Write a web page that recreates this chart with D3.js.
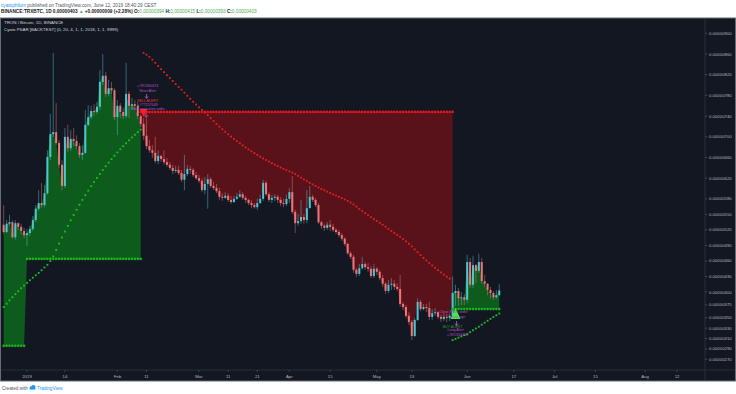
<!DOCTYPE html>
<html>
<head>
<meta charset="utf-8">
<script src="https://cdn.jsdelivr.net/npm/d3@7"></script>
<style>
  html, body { margin: 0; padding: 0; background: #ffffff; }
  svg { display: block; font-family: "Liberation Sans", Arial, sans-serif; }
</style>
</head>
<body>
<svg id="chart" width="736" height="394"></svg>
<script>
"use strict";
// Daily TRX/BTC candles, prices in satoshi (1e-8 BTC)
const firstDay = "2018-12-24";
const firstOpen = 530;
const closes = [
  516, 532, 535, 506, 533, 526, 518, 510,
  514, 522, 539, 561, 572, 568, 591, 661, 705, 709,
  688, 646, 605, 700, 678, 696, 692, 682, 665, 669,
  723, 738, 750, 748, 758, 806, 818, 783, 794, 790,
  738, 760, 748, 740, 783, 760, 763, 760, 740, 725,
  702, 682, 674, 669, 653, 663, 657, 651, 646, 640,
  634, 636, 630, 617, 628, 638, 636, 626, 620, 615,
  597, 609, 618, 605, 601, 595, 584, 582, 586, 578,
  574, 580, 584, 589, 582, 578, 572, 568, 564, 572,
  580, 611, 589, 578, 582, 584, 578, 572, 570, 580,
  593, 555, 533, 537, 545, 539, 562, 584, 578, 568,
  535, 528, 524, 530, 526, 520, 516, 510, 503, 493,
  475, 468, 443, 435, 446, 454, 448, 445, 431, 445,
  439, 427, 416, 402, 414, 416, 410, 406, 377, 371,
  354, 342, 315, 346, 381, 367, 371, 369, 352, 359,
  361, 352, 348, 352, 350, 354, 398, 402, 388, 390,
  385, 458, 414, 452, 441, 458, 421, 416, 404, 398,
  390, 394, 403
];
const highs = [
  568, 539, 549, 539, 539, 535, 532, 524,
  522, 528, 547, 568, 597, 611, 607, 674, 744, 862,
  765, 694, 655, 717, 723, 713, 717, 703, 688, 684,
  752, 761, 760, 763, 767, 829, 860, 825, 810, 806,
  794, 771, 765, 756, 843, 788, 775, 771, 767, 744,
  736, 736, 694, 684, 700, 674, 665, 674, 659, 651,
  646, 644, 644, 636, 665, 646, 644, 640, 632, 626,
  620, 622, 628, 622, 613, 609, 601, 591, 593, 591,
  586, 586, 591, 597, 593, 586, 580, 578, 572, 580,
  588, 617, 615, 593, 588, 589, 588, 584, 580, 588,
  601, 624, 559, 551, 578, 551, 597, 605, 588, 582,
  572, 537, 532, 535, 539, 532, 524, 520, 514, 506,
  495, 479, 472, 446, 454, 468, 458, 456, 450, 454,
  448, 443, 433, 419, 423, 427, 423, 417, 433, 381,
  375, 361, 346, 350, 388, 385, 377, 377, 381, 367,
  369, 363, 356, 359, 358, 359, 430, 414, 408, 400,
  396, 472, 466, 470, 454, 474, 466, 433, 417, 410,
  402, 404, 415
];
const lows = [
  512, 514, 528, 503, 501, 520, 512, 504,
  489, 508, 518, 535, 557, 562, 564, 588, 655, 700,
  684, 640, 597, 601, 671, 673, 682, 676, 659, 655,
  667, 721, 734, 740, 744, 752, 800, 777, 779, 783,
  732, 703, 736, 734, 736, 736, 752, 752, 734, 719,
  694, 676, 669, 659, 649, 647, 651, 646, 642, 636,
  628, 630, 626, 613, 597, 624, 628, 622, 617, 611,
  593, 589, 561, 601, 597, 591, 578, 576, 580, 574,
  570, 572, 578, 582, 578, 572, 568, 562, 561, 559,
  570, 576, 586, 574, 572, 576, 572, 566, 564, 566,
  572, 551, 514, 528, 532, 532, 533, 562, 574, 564,
  532, 522, 518, 520, 518, 516, 512, 506, 499, 489,
  472, 464, 437, 429, 431, 443, 443, 439, 427, 427,
  433, 423, 410, 396, 398, 404, 404, 402, 371, 365,
  350, 336, 307, 313, 344, 363, 365, 361, 346, 346,
  354, 348, 342, 344, 342, 344, 350, 373, 373, 375,
  375, 379, 408, 408, 417, 437, 416, 410, 394, 388,
  385, 387, 393
];

// strategy positions and their stop / entry levels
const tradeSide = ["long", "short", "long"];
const tradeStart = ["2018-12-24", "2019-02-09", "2019-05-27"];
const tradeEnd = ["2019-02-09", "2019-05-27", "2019-06-12"];
const levelTrade = [0, 0, 1, 2];
const levelFrom = ["2018-12-24", "2019-01-01", "2019-02-09", "2019-05-27"];
const levelValue = [296, 464, 748, 367];

const signalDates = ["2019-02-10", "2019-05-28"];
const signalSide = ["short", "long"];

// parabolic SAR settings and state at the first visible bar
const sarStart = 0.02;
const sarStep = 0.004;
const sarMax = 0.032;
const sarInit = { sar: 371, ep: 575, af: 0.032, up: true };

const priceTicks = [900, 860, 820, 780, 740, 700, 660, 620, 580, 550, 520, 490, 460, 430, 400, 375, 350, 330, 310, 290, 270];
const dateTicks = ["2019-01-01", "2019-01-14", "2019-02-01", "2019-02-11", "2019-03-01", "2019-03-11", "2019-03-21", "2019-04-01", "2019-04-15", "2019-05-01", "2019-05-13", "2019-06-01", "2019-06-17", "2019-07-01", "2019-07-15", "2019-08-01", "2019-08-12"];
const dateTickLabels = ["2019", "14", "Feb", "11", "Mar", "11", "21", "Apr", "15", "May", "13", "Jun", "17", "Jul", "15", "Aug", "12"];

(function () {
  const parse = d3.utcParse("%Y-%m-%d");
  const fmtPrice = (v) => (v * 1e-8).toFixed(8);

  const colors = {
    bg: "#131722",
    up: "#53c3cf",
    down: "#e8787c",
    fillLong: "#0d5c1d",
    fillShort: "#5a121a",
    lineLong: "#18b318",
    lineShort: "#e0181c",
    sarUp: "#1ec41e",
    sarDown: "#e61f1f",
    axisText: "#b2b5be",
    purple: "#b14fc9",
  };

  const start = parse(firstDay);
  const bars = closes.map((c, i) => ({
    date: d3.utcDay.offset(start, i),
    open: i ? closes[i - 1] : firstOpen,
    high: highs[i],
    low: lows[i],
    close: c,
  }));

  const plot = { left: 2, right: 705, top: 18.5, bottom: 370 };

  const x = d3
    .scaleUtc()
    .domain([parse("2019-01-01"), parse("2019-08-01")])
    .range([27, 645]);
  const y = d3.scaleLinear().domain([270, 900]).range([359.3, 33.3]);

  const svg = d3.select("#chart");

  // ---- header
  const head1 = svg
    .append("text")
    .attr("x", 1)
    .attr("y", 7)
    .attr("font-size", 4.7)
    .attr("fill", "#50535e");
  head1.append("tspan").attr("fill", "#2196f3").text("cyatophilum");
  head1.append("tspan").text(" published on TradingView.com, June 12, 2019 18:40:29 CEST");

  const head2 = svg
    .append("text")
    .attr("x", 1)
    .attr("y", 13.3)
    .attr("font-size", 4.7)
    .attr("font-weight", "bold")
    .attr("fill", "#131722");
  const green = "#4caf50";
  [
    ["BINANCE:TRXBTC, 1D 0.00000403 ", null],
    ["\u25B2", green],
    [" +0.00000009 (+2.28%) O:", null],
    ["0.00000394", green],
    [" H:", null],
    ["0.00000415", green],
    [" L:", null],
    ["0.00000393", green],
    [" C:", null],
    ["0.00000403", green],
  ].forEach(([t, c]) => {
    const s = head2.append("tspan").text(t);
    if (c) s.attr("fill", c).attr("font-weight", "normal");
  });

  // ---- chart frame
  svg
    .append("rect")
    .attr("x", 0.5)
    .attr("y", 18)
    .attr("width", 735)
    .attr("height", 363)
    .attr("fill", colors.bg)
    .attr("stroke", "#6a6d78")
    .attr("stroke-width", 1);

  svg
    .append("line")
    .attr("x1", plot.right)
    .attr("x2", plot.right)
    .attr("y1", 18.5)
    .attr("y2", 380.5)
    .attr("stroke", "#2a2e39");
  svg
    .append("line")
    .attr("x1", 1)
    .attr("x2", 735)
    .attr("y1", plot.bottom)
    .attr("y2", plot.bottom)
    .attr("stroke", "#2a2e39");

  svg
    .append("defs")
    .append("clipPath")
    .attr("id", "plotClip")
    .append("rect")
    .attr("x", plot.left)
    .attr("y", plot.top)
    .attr("width", plot.right - plot.left)
    .attr("height", plot.bottom - plot.top);

  const g = svg.append("g").attr("clip-path", "url(#plotClip)");

  // ---- strategy position fills
  const trades = tradeSide.map((side, t) => {
    const from = parse(tradeStart[t]);
    const to = parse(tradeEnd[t]);
    const steps = levelFrom
      .map((d, k) => ({ date: parse(d), value: levelValue[k], trade: levelTrade[k] }))
      .filter((s) => s.trade === t);
    const rows = bars
      .filter((b) => b.date >= from && b.date <= to)
      .map((b) => {
        const step = steps.filter((s) => s.date <= b.date).pop() || steps[0];
        return { date: b.date, close: b.close, level: step.value };
      });
    return { side, rows };
  });

  const area = d3
    .area()
    .x((d) => x(d.date))
    .y0((d) => y(d.level))
    .y1((d) => y(d.close));

  g.selectAll(".pos-fill")
    .data(trades)
    .join("path")
    .attr("class", "pos-fill")
    .attr("d", (d) => area(d.rows))
    .attr("fill", (d) => (d.side === "long" ? colors.fillLong : colors.fillShort));

  // ---- candles
  const candle = g
    .selectAll(".candle")
    .data(bars)
    .join("g")
    .attr("class", "candle");
  candle
    .append("line")
    .attr("x1", (d) => x(d.date))
    .attr("x2", (d) => x(d.date))
    .attr("y1", (d) => y(d.high))
    .attr("y2", (d) => y(d.low))
    .attr("stroke", (d) => (d.close >= d.open ? colors.up : colors.down))
    .attr("stroke-opacity", 0.6)
    .attr("stroke-width", 0.8);
  candle
    .append("rect")
    .attr("x", (d) => x(d.date) - 1)
    .attr("width", 2)
    .attr("y", (d) => y(Math.max(d.open, d.close)))
    .attr("height", (d) => Math.max(0.7, Math.abs(y(d.open) - y(d.close))))
    .attr("fill", (d) => (d.close >= d.open ? colors.up : colors.down));

  // ---- level lines (plotted as circles per bar)
  trades.forEach((tr) => {
    g.append("g")
      .selectAll("circle")
      .data(tr.rows)
      .join("circle")
      .attr("cx", (d) => x(d.date))
      .attr("cy", (d) => y(d.level))
      .attr("r", 1.35)
      .attr("fill", tr.side === "long" ? colors.lineLong : colors.lineShort);
  });

  // ---- parabolic SAR
  function psar(data) {
    let { sar, ep, af, up } = sarInit;
    return data.map((b, i) => {
      if (i > 0) {
        sar = sar + af * (ep - sar);
        const p1 = data[i - 1];
        const p2 = data[Math.max(0, i - 2)];
        if (up) {
          sar = Math.min(sar, p1.low, p2.low);
          if (b.low < sar) {
            up = false;
            sar = ep;
            ep = b.low;
            af = sarStart;
          } else if (b.high > ep) {
            ep = b.high;
            af = Math.min(af + sarStep, sarMax);
          }
        } else {
          sar = Math.max(sar, p1.high, p2.high);
          if (b.high > sar) {
            up = true;
            sar = ep;
            ep = b.high;
            af = sarStart;
          } else if (b.low < ep) {
            ep = b.low;
            af = Math.min(af + sarStep, sarMax);
          }
        }
      }
      return { date: b.date, sar, up };
    });
  }

  g.append("g")
    .selectAll("rect")
    .data(psar(bars))
    .join("rect")
    .attr("x", (d) => x(d.date) - 0.9)
    .attr("y", (d) => y(d.sar) - 0.9)
    .attr("width", 1.8)
    .attr("height", 1.8)
    .attr("fill", (d) => (d.up ? colors.sarUp : colors.sarDown));

  // ---- entry signals
  signalDates.forEach((ds, k) => {
    const date = parse(ds);
    const t = signalSide[k] === "short" ? 1 : 2;
    const lvl = levelValue[levelTrade.indexOf(t)];
    const cx = x(date);
    const cy = y(lvl);
    const sg = g.append("g").attr("font-size", 3.6).attr("text-anchor", "middle");
    if (signalSide[k] === "short") {
      sg.append("path")
        .attr("d", `M${cx - 4},${cy - 3}L${cx + 4},${cy - 3}L${cx},${cy + 5}Z`)
        .attr("fill", "#ff1e1e");
      const lines = [
        ["+#RO360474", colors.purple, -25],
        ["Short Alert", colors.purple, -20],
        ["SELL ALERT", "#e53935", -10],
        ["+#TT157049", colors.purple, -6],
        ["Short execution order", colors.purple, -1.5],
      ];
      lines.forEach(([t2, c, dy]) =>
        sg.append("text").attr("x", cx + 4).attr("y", cy + dy).attr("fill", c).text(t2)
      );
      sg.append("path")
        .attr("d", `M${cx + 3},${cy - 18}L${cx + 3},${cy - 14}M${cx + 1.5},${cy - 15.5}L${cx + 3},${cy - 13.5}L${cx + 4.5},${cy - 15.5}`)
        .attr("stroke", colors.purple)
        .attr("stroke-width", 0.9)
        .attr("fill", "none");
      sg.append("path")
        .attr("d", `M${cx + 2.5},${cy + 1}L${cx + 2.5},${cy + 5}M${cx + 1},${cy + 3.5}L${cx + 2.5},${cy + 5.5}L${cx + 4},${cy + 3.5}`)
        .attr("stroke", colors.purple)
        .attr("stroke-width", 0.9)
        .attr("fill", "none");
    } else {
      sg.append("path")
        .attr("d", `M${cx - 5},${cy + 10}L${cx + 5},${cy + 10}L${cx},${cy - 1}Z`)
        .attr("fill", "#3cf03c");
      const lines = [
        ["Close Short order", colors.purple, 3.5, -2],
        ["Long sign", colors.purple, 8.5, 2],
        ["BUY ALERT", "#1fa31f", 19, -3],
        ["Long Alert", colors.purple, 22, 0],
        ["+#RO316458", colors.purple, 26.5, 2],
      ];
      lines.forEach(([t2, c, dy, dx]) =>
        sg.append("text").attr("x", cx + dx).attr("y", cy + dy).attr("fill", c).text(t2)
      );
      sg.append("path")
        .attr("d", `M${cx + 1},${cy + 12}L${cx + 1},${cy + 16}M${cx - 0.5},${cy + 14.5}L${cx + 1},${cy + 16.5}L${cx + 2.5},${cy + 14.5}`)
        .attr("stroke", colors.purple)
        .attr("stroke-width", 0.9)
        .attr("fill", "none");
    }
  });

  // ---- legend
  const legend = svg.append("g").attr("font-size", 4.4).attr("fill", "#d1d4dc");
  legend.append("text").attr("x", 4).attr("y", 24.3).text("TRON / Bitcoin, 1D, BINANCE");
  legend
    .append("text")
    .attr("x", 4)
    .attr("y", 30.5)
    .text("Cyato PSAR [BACKTEST] (0, 20, 4, 1, 1, 2018, 1, 1, 9999)");

  // ---- price axis
  const yAxis = svg.append("g").attr("font-size", 4.3).attr("fill", colors.axisText);
  priceTicks.forEach((v) => {
    yAxis
      .append("line")
      .attr("x1", plot.right)
      .attr("x2", plot.right + 2.5)
      .attr("y1", y(v))
      .attr("y2", y(v))
      .attr("stroke", "#4c525e")
      .attr("stroke-width", 0.7);
    yAxis
      .append("text")
      .attr("x", plot.right + 4)
      .attr("y", y(v))
      .attr("dy", "0.35em")
      .text(fmtPrice(v));
  });

  // ---- time axis
  const xAxis = svg
    .append("g")
    .attr("font-size", 4.3)
    .attr("fill", colors.axisText)
    .attr("text-anchor", "middle");
  dateTicks.forEach((ds, k) => {
    const px = x(parse(ds));
    xAxis
      .append("line")
      .attr("x1", px)
      .attr("x2", px)
      .attr("y1", plot.bottom)
      .attr("y2", plot.bottom + 2)
      .attr("stroke", "#4c525e")
      .attr("stroke-width", 0.7);
    xAxis.append("text").attr("x", px).attr("y", 377.6).text(dateTickLabels[k]);
  });

  // ---- footer
  const foot = svg.append("g").attr("font-size", 4.6);
  foot.append("text").attr("x", 2).attr("y", 389.6).attr("fill", "#50535e").text("Created with");
  const logo = foot.append("g").attr("fill", "#2196f3");
  logo.append("circle").attr("cx", 31.2).attr("cy", 387.8).attr("r", 1.6);
  logo.append("circle").attr("cx", 33.4).attr("cy", 387).attr("r", 2.1);
  logo.append("rect").attr("x", 29.6).attr("y", 387.8).attr("width", 6).attr("height", 1.8).attr("rx", 0.9);
  foot.append("text").attr("x", 37).attr("y", 389.6).attr("fill", "#2196f3").text("TradingView");
})();
</script>
</body>
</html>
